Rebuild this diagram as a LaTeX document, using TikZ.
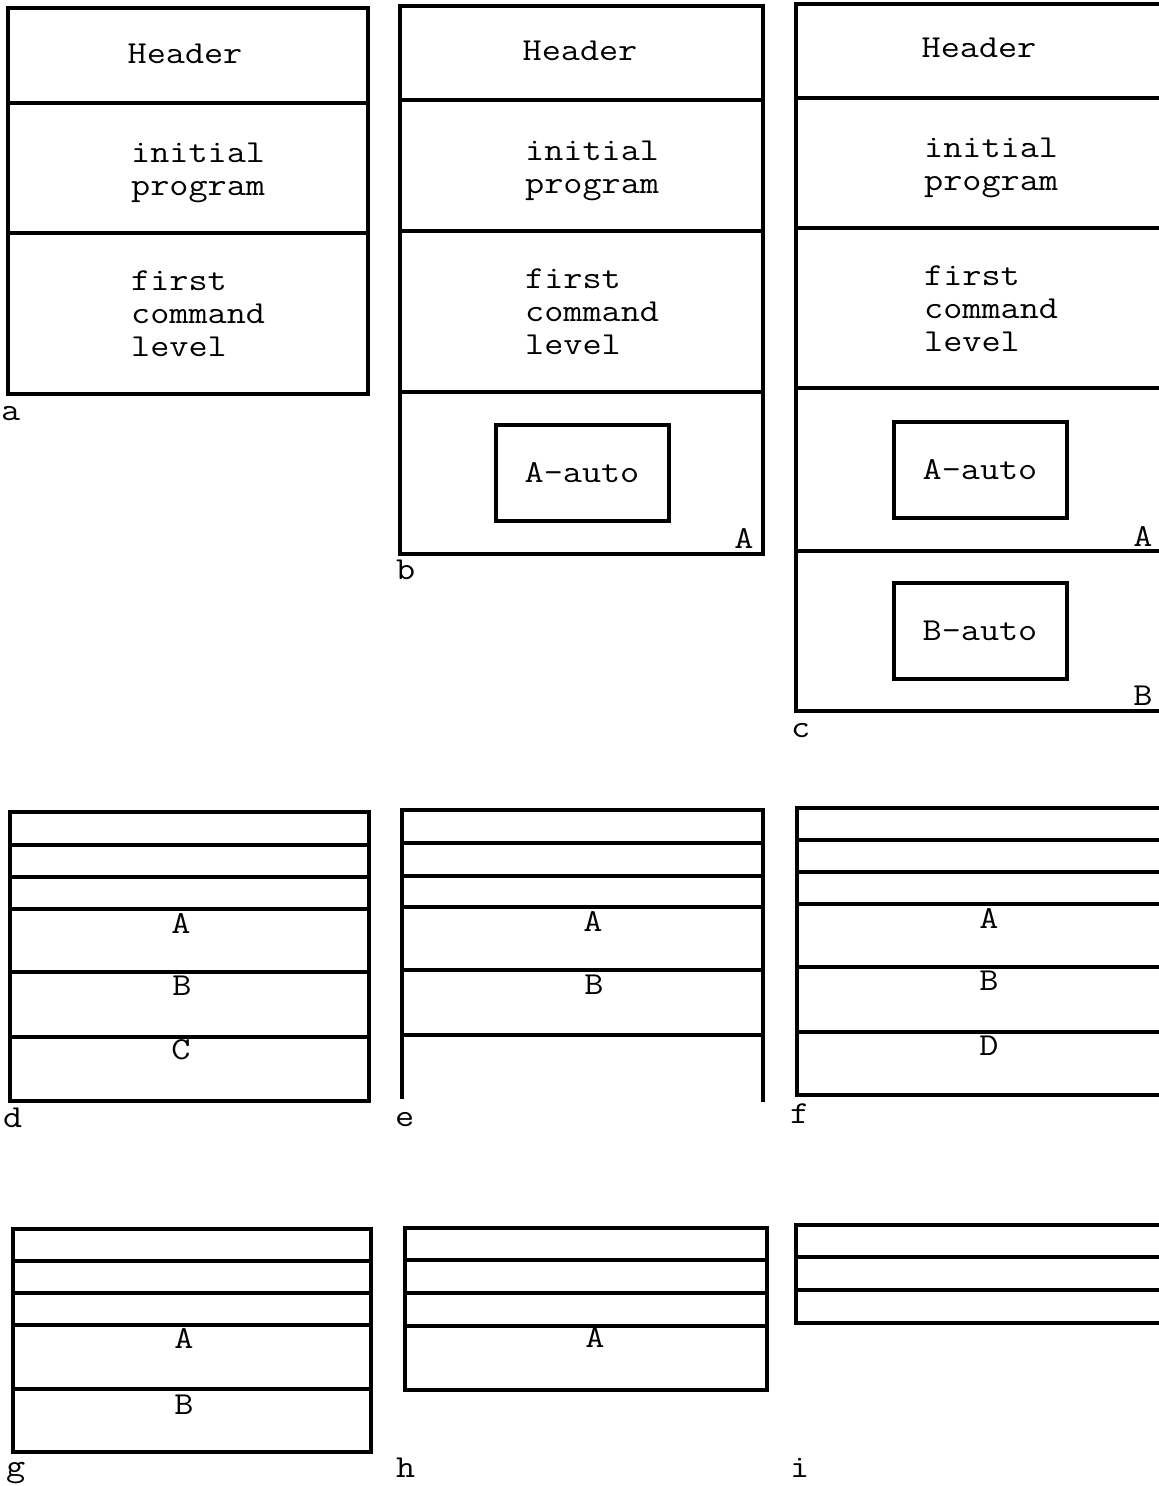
\documentclass[tikz,border=0pt]{standalone}
\usepackage{fontspec}
\usepackage{graphicx}
\newcommand\twfont{\ttfamily\addfontfeatures{FakeBold=1.6}\fontsize{32}{33}\selectfont}
\newcommand\widetxt[1]{\scalebox{1.16}[1]{#1}}
\tikzset{
  frame/.style={line width=4pt, line cap=rect, line join=miter},
  tw/.style={font=\twfont, inner sep=0pt},
  hdr/.style={tw, anchor=base},
  blk/.style={tw, align=left, anchor=north west},
  lbl/.style={tw, anchor=base west},
  seg/.style={tw, anchor=base},
  autobox/.style={draw, line width=4pt, font=\twfont, minimum width=173pt, minimum height=96pt, inner sep=0pt}
}
\begin{document}
\begin{tikzpicture}[x=1pt, y=-1pt]
\useasboundingbox (0,0) rectangle (1159,1486);
\clip (0,0) rectangle (1159,1486);

% ---------- panel a ----------
\draw[frame] (8,8) rectangle (368,394);
\draw[frame] (8,103) -- (368,103);
\draw[frame] (8,233) -- (368,233);
\node[hdr] (aH) at (185,63) {\widetxt{Header}};
\node[blk] (aI) at (131,143) {\widetxt{initial}\\\widetxt{program}};
\node[blk] (aF) at (131,271) {\widetxt{first}\\\widetxt{command}\\\widetxt{level}};
\node[lbl] (la) at (1,420) {\widetxt{a}};

% ---------- panel b ----------
\draw[frame] (400,6) rectangle (763,554);
\draw[frame] (400,100) -- (763,100);
\draw[frame] (400,231) -- (763,231);
\draw[frame] (400,392) -- (763,392);
\node[hdr] (bH) at (580,60) {\widetxt{Header}};
\node[blk] (bI) at (525,141) {\widetxt{initial}\\\widetxt{program}};
\node[blk] (bF) at (525,269) {\widetxt{first}\\\widetxt{command}\\\widetxt{level}};
\node[autobox] (bAauto) at (582,473) {\widetxt{A-auto}};
\node[seg] (bA) at (744,548) {\widetxt{A}};
\node[lbl] (lb) at (396,579) {\widetxt{b}};

% ---------- panel c ----------
\draw[frame] (796,4) rectangle (1164,711);
\draw[frame] (796,98) -- (1164,98);
\draw[frame] (796,228) -- (1164,228);
\draw[frame] (796,388) -- (1164,388);
\draw[frame] (796,551) -- (1164,551);
\node[hdr] (cH) at (979,57) {\widetxt{Header}};
\node[blk] (cI) at (924,138) {\widetxt{initial}\\\widetxt{program}};
\node[blk] (cF) at (924,266) {\widetxt{first}\\\widetxt{command}\\\widetxt{level}};
\node[autobox] (cAauto) at (980,470) {\widetxt{A-auto}};
\node[autobox] (cBauto) at (980,631) {\widetxt{B-auto}};
\node[seg] (cA) at (1143,546) {\widetxt{A}};
\node[seg] (cB) at (1143,705) {\widetxt{B}};
\node[lbl] (lc) at (791,737) {\widetxt{c}};

% ---------- panel d ----------
\draw[frame] (10,812) rectangle (369,1101);
\foreach \yy in {845,877,909,972,1037} \draw[frame] (10,\yy) -- (369,\yy);
\node[seg] (dA) at (181,933) {\widetxt{A}};
\node[seg] (dB) at (182,995) {\widetxt{B}};
\node[seg] (dC) at (181,1059) {\widetxt{C}};
\node[lbl] (ld) at (3,1127) {\widetxt{d}};

% ---------- panel e ----------
\draw[frame] (402,1097) -- (402,810) -- (763,810) -- (763,1100);
\foreach \yy in {843,876,907,970,1035} \draw[frame] (402,\yy) -- (763,\yy);
\node[seg] (eA) at (593,931) {\widetxt{A}};
\node[seg] (eB) at (594,994) {\widetxt{B}};
\node[lbl] (le) at (395,1126) {\widetxt{e}};

% ---------- panel f ----------
\draw[frame] (797,808) rectangle (1164,1095);
\foreach \yy in {840,872,904,967,1032} \draw[frame] (797,\yy) -- (1164,\yy);
\node[seg] (fA) at (989,928) {\widetxt{A}};
\node[seg] (fB) at (989,990) {\widetxt{B}};
\node[seg] (fD) at (989,1055) {\widetxt{D}};
\node[lbl] (lf) at (790,1123) {\widetxt{f}};

% ---------- panel g ----------
\draw[frame] (13,1229) rectangle (371,1452);
\foreach \yy in {1261,1293,1325,1389} \draw[frame] (13,\yy) -- (371,\yy);
\node[seg] (gA) at (184,1348) {\widetxt{A}};
\node[seg] (gB) at (184,1414) {\widetxt{B}};
\node[lbl] (lg) at (6,1476) {\widetxt{g}};

% ---------- panel h ----------
\draw[frame] (405,1228) rectangle (767,1390);
\foreach \yy in {1260,1293,1326} \draw[frame] (405,\yy) -- (767,\yy);
\node[seg] (hA) at (595,1347) {\widetxt{A}};
\node[lbl] (lh) at (396,1477) {\widetxt{h}};

% ---------- panel i ----------
\draw[frame] (796,1225) rectangle (1164,1323);
\foreach \yy in {1257,1290} \draw[frame] (796,\yy) -- (1164,\yy);
\node[lbl] (li) at (790,1477) {\widetxt{i}};
\end{tikzpicture}
\end{document}
